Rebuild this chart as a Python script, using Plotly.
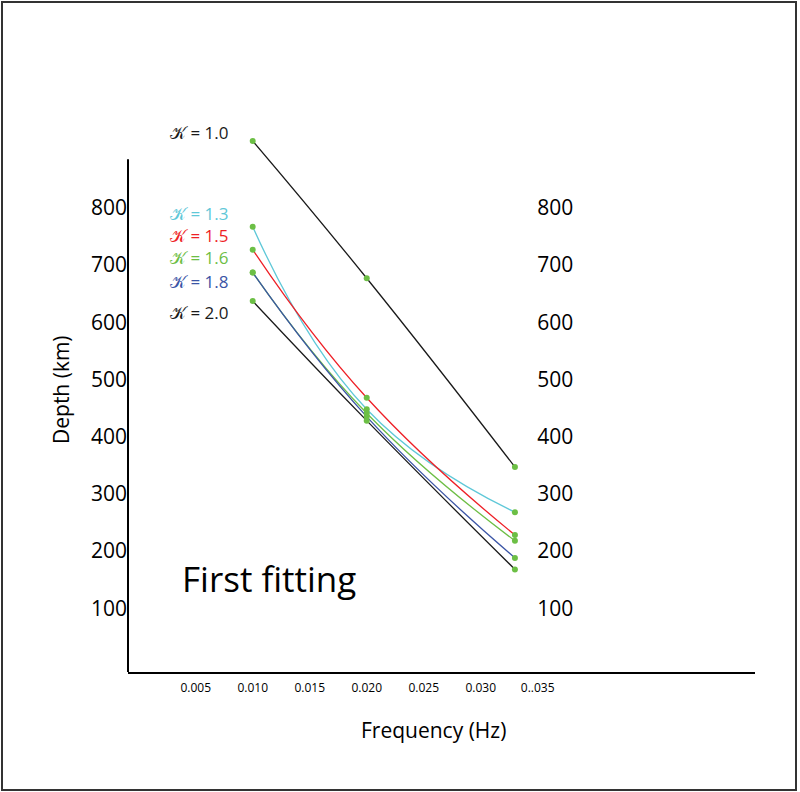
import plotly.graph_objects as go

# frequencies (Hz) and depths (km)
freq = [0.010, 0.020, 0.033]

k_labels = ["1.0", "1.3", "1.5", "1.6", "1.8", "2.0"]
depth_k10 = [917, 677, 347]
depth_k13 = [767, 448, 268]
depth_k15 = [727, 468, 228]
depth_k16 = [687, 441, 218]
depth_k18 = [687, 435, 188]
depth_k20 = [637, 428, 168]

x_ticks = [0.005, 0.010, 0.015, 0.020, 0.025, 0.030, 0.035]
x_ticktext = ["0.005", "0.010", "0.015", "0.020", "0.025", "0.030", "0..035"]
y_ticks = [100, 200, 300, 400, 500, 600, 700, 800]

series = [depth_k10, depth_k13, depth_k15, depth_k16, depth_k18, depth_k20]
colors = ["#1a1a1a", "#5fc8d8", "#ee1f26", "#6dbe45", "#3b55a6", "#1a1a1a"]
dot_color = "#6cbf45"
FONT = "Open Sans"

fig = go.Figure()

# curves first, green dots drawn on top
for k, d, c in zip(k_labels, series, colors):
    fig.add_trace(go.Scatter(x=freq, y=d, mode="lines", name=k,
                             line=dict(color=c, width=1.3, shape="spline", smoothing=1.3),
                             cliponaxis=False, showlegend=False))
for k, d in zip(k_labels, series):
    fig.add_trace(go.Scatter(x=freq, y=d, mode="markers", name=k,
                             marker=dict(color=dot_color, size=6),
                             cliponaxis=False, showlegend=False))

# invisible trace to carry the right-hand tick labels
fig.add_trace(go.Scatter(x=[freq[0]], y=[depth_k20[0]], yaxis="y2",
                         mode="markers", marker=dict(opacity=0),
                         showlegend=False, hoverinfo="skip"))

yr = [-11.4, 988.6]
fig.update_layout(
    width=800, height=792,
    margin=dict(l=128, r=45, t=100, b=120),
    paper_bgcolor="white", plot_bgcolor="white",
    font=dict(family=FONT, color="black"),
    xaxis=dict(range=[-0.00094, 0.05406], showgrid=False, zeroline=False,
               showline=True, linecolor="black", linewidth=2,
               tickvals=x_ticks, ticktext=x_ticktext,
               ticks="outside", ticklen=4, tickcolor="rgba(0,0,0,0)",
               tickfont=dict(size=12, family=FONT)),
    yaxis=dict(range=yr, showgrid=False, zeroline=False, showline=False,
               tickvals=y_ticks, ticks="", tickfont=dict(size=21, family=FONT)),
    yaxis2=dict(range=yr, overlaying="y", anchor="free", position=0.651,
                side="right", showgrid=False, zeroline=False, showline=False,
                tickvals=y_ticks, ticks="", tickfont=dict(size=21, family=FONT)),
)

# left axis line stops short of the plot top
fig.add_shape(type="line", xref="paper", yref="y", x0=0, x1=0, y0=yr[0], y1=885,
              line=dict(color="black", width=2))
# outer frame
fig.add_shape(type="rect", xref="paper", yref="paper",
              x0=(2 - 128) / 627, x1=(796 - 128) / 627,
              y0=(672 - 790) / 572, y1=(672 - 2) / 572,
              line=dict(color="#333333", width=2))

# K labels
label_y = [931, 791, 752, 714, 672, 617]
for k, c, ly in zip(k_labels, colors, label_y):
    fig.add_annotation(x=0.0026, y=ly, xref="x", yref="y", xanchor="left",
                       text="\U0001D4A6 = " + k, showarrow=False,
                       font=dict(size=17, color=c, family=FONT))

fig.add_annotation(x=(180 - 128) / 627, y=(672 - 578) / 572, xref="paper", yref="paper",
                   xanchor="left", yanchor="middle", text="First fitting", showarrow=False,
                   font=dict(size=35, family=FONT))
fig.add_annotation(x=(433 - 128) / 627, y=(672 - 730) / 572, xref="paper", yref="paper",
                   xanchor="center", yanchor="middle",
                   text="Frequency (Hz)", showarrow=False,
                   font=dict(size=21, family=FONT))
fig.add_annotation(x=(61 - 128) / 627, y=(672 - 390) / 572, xref="paper", yref="paper",
                   xanchor="center", yanchor="middle",
                   text="Depth (km)", textangle=-90, showarrow=False,
                   font=dict(size=21, family=FONT))

# drop the page's default body margin so the figure sits at the window corner
fig.write_html("out.html", config={"displayModeBar": False},
               post_script="document.body.style.margin='0';")
